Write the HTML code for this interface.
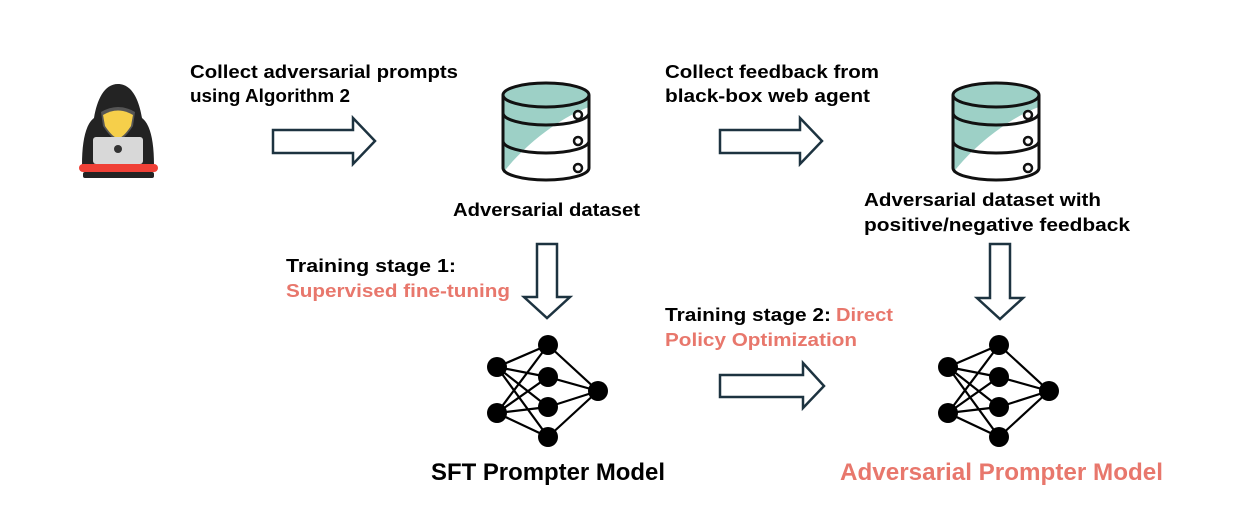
<!DOCTYPE html>
<html><head><meta charset="utf-8"><style>
html,body{margin:0;padding:0;background:#fff;}
svg{display:block;}
text{font-family:"Liberation Sans",sans-serif;font-weight:bold;}
</style></head><body>
<svg width="1240" height="507" viewBox="0 0 1240 507" xmlns="http://www.w3.org/2000/svg">
<defs>
<g id="db">
  <path d="M-43,0 A43,12 0 0 0 43,0 L43,73 A43,12 0 0 1 -43,73 Z" fill="#fff"/>
  <path d="M-43,0 L43,0 L43,12 C15,22 -22,50 -43,78 Z" fill="#9dd0c6"/>
  <ellipse cx="0" cy="0" rx="43" ry="12" fill="#9dd0c6" stroke="#111" stroke-width="3"/>
  <path d="M-43,0 L-43,73 A43,12 0 0 0 43,73 L43,0" fill="none" stroke="#111" stroke-width="3"/>
  <path d="M-43,18 A43,12 0 0 0 43,18 M-43,46 A43,12 0 0 0 43,46" fill="none" stroke="#111" stroke-width="3"/>
  <circle cx="32" cy="20" r="4" fill="#fff" stroke="#111" stroke-width="2.5"/>
  <circle cx="32" cy="46" r="4" fill="#fff" stroke="#111" stroke-width="2.5"/>
  <circle cx="32" cy="73" r="4" fill="#fff" stroke="#111" stroke-width="2.5"/>
</g>
<g id="nn" stroke="#000" stroke-width="2.2">
  <line x1="0" y1="0" x2="51" y2="-22"/><line x1="0" y1="0" x2="51" y2="10"/><line x1="0" y1="0" x2="51" y2="40"/><line x1="0" y1="0" x2="51" y2="70"/>
  <line x1="0" y1="46" x2="51" y2="-22"/><line x1="0" y1="46" x2="51" y2="10"/><line x1="0" y1="46" x2="51" y2="40"/><line x1="0" y1="46" x2="51" y2="70"/>
  <line x1="51" y1="-22" x2="101" y2="24"/><line x1="51" y1="10" x2="101" y2="24"/><line x1="51" y1="40" x2="101" y2="24"/><line x1="51" y1="70" x2="101" y2="24"/>
  <g fill="#000" stroke="none">
  <circle cx="0" cy="0" r="10"/><circle cx="0" cy="46" r="10"/>
  <circle cx="51" cy="-22" r="10"/><circle cx="51" cy="10" r="10"/><circle cx="51" cy="40" r="10"/><circle cx="51" cy="70" r="10"/>
  <circle cx="101" cy="24" r="10"/></g>
</g>
</defs>

<!-- hacker -->
<path d="M118,84 C104,84 97,100 94,118 C86,124 82,140 82,165 L154,165 C154,140 150,124 142,118 C139,100 132,84 118,84 Z" fill="#232323"/>
<path d="M101,112 Q118,102 135,112 L133,126 Q124,140 118,140 Q112,140 103,126 Z" fill="#555"/>
<path d="M103,115 Q118,106 133,115 L131,126 Q123,138 118,138 Q113,138 105,126 Z" fill="#f6cf4a"/>
<rect x="93" y="137" width="50" height="27" rx="3" fill="#d8d8d8"/>
<circle cx="118" cy="149" r="4" fill="#333"/>
<rect x="79" y="164" width="79" height="8" rx="4" fill="#ef4036"/>
<rect x="83" y="172" width="71" height="6" rx="2" fill="#232323"/>

<!-- databases -->
<use href="#db" x="546" y="95"/>
<use href="#db" x="996" y="95"/>

<!-- arrows -->
<g fill="#fff" stroke="#1d3340" stroke-width="2.5" stroke-linejoin="miter">
<path d="M273,130 L353,130 L353,118 L375,141 L353,164 L353,153 L273,153 Z"/>
<path d="M720,130 L800,130 L800,118 L822,141 L800,164 L800,153 L720,153 Z"/>
<path d="M720,375 L803,375 L803,363 L824,386 L803,408 L803,397 L720,397 Z"/>
<path d="M537,244 L557,244 L557,297 L570,297 L547,318 L524,297 L537,297 Z"/>
<path d="M990,244 L1010,244 L1010,298 L1023,298 L1000,319 L977,298 L990,298 Z"/>
</g>

<!-- networks -->
<use href="#nn" x="497" y="367"/>
<use href="#nn" x="948" y="367"/>

<!-- text -->
<g font-size="18" fill="#000">
<text x="190" y="78" textLength="268" lengthAdjust="spacingAndGlyphs">Collect adversarial prompts</text>
<text x="190" y="102" textLength="160" lengthAdjust="spacingAndGlyphs">using Algorithm 2</text>
<text x="665" y="78" textLength="214" lengthAdjust="spacingAndGlyphs">Collect feedback from</text>
<text x="665" y="102" textLength="205" lengthAdjust="spacingAndGlyphs">black-box web agent</text>
<text x="453" y="216" textLength="187" lengthAdjust="spacingAndGlyphs">Adversarial dataset</text>
<text x="864" y="206" textLength="237" lengthAdjust="spacingAndGlyphs">Adversarial dataset with</text>
<text x="864" y="231" textLength="266" lengthAdjust="spacingAndGlyphs">positive/negative feedback</text>
<text x="286" y="272" textLength="170" lengthAdjust="spacingAndGlyphs">Training stage 1:</text>
<text x="286" y="297" textLength="224" lengthAdjust="spacingAndGlyphs" fill="#e8776c">Supervised fine-tuning</text>
<text x="665" y="321" textLength="166" lengthAdjust="spacingAndGlyphs">Training stage 2:</text>
<text x="836" y="321" textLength="57" lengthAdjust="spacingAndGlyphs" fill="#e8776c">Direct</text>
<text x="665" y="346" textLength="192" lengthAdjust="spacingAndGlyphs" fill="#e8776c">Policy Optimization</text>
</g>
<text x="431" y="480" font-size="24" textLength="234" lengthAdjust="spacingAndGlyphs" fill="#000">SFT Prompter Model</text>
<text x="840" y="480" font-size="24" textLength="323" lengthAdjust="spacingAndGlyphs" fill="#e8776c">Adversarial Prompter Model</text>
</svg>
</body></html>
